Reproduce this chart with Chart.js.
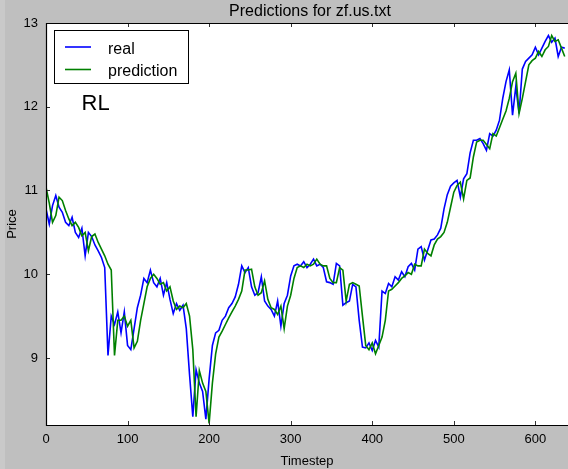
<!DOCTYPE html>
<html>
<head>
<meta charset="utf-8">
<script src="https://cdn.jsdelivr.net/npm/chart.js@4.4.0/dist/chart.umd.min.js"></script>
<style>
  html, body { margin: 0; padding: 0; background: #bfbfbf; }
  canvas { display: block; }
</style>
</head>
<body>
<canvas id="chart" width="568" height="469"></canvas>
<script>
// Sampling interval of the price series (timesteps between stored points)
const STEP = 4;

// Actual closing price, one value every STEP timesteps starting at 0
const realPrice = [
  10.78, 10.6, 10.82, 10.94, 10.8, 10.74, 10.62, 10.58, 10.68, 10.5,
  10.44, 10.55, 10.22, 10.5, 10.45, 10.35, 10.28, 10.2, 10.08, 9.03,
  9.5, 9.4, 9.55, 9.3, 9.55, 9.15, 9.1, 9.35, 9.6, 9.75,
  9.95, 9.9, 10.05, 9.9, 9.85, 9.95, 9.75, 9.9, 9.7, 9.53,
  9.65, 9.57, 9.63, 9.35, 8.8, 8.3, 8.86, 8.7, 8.6, 8.27,
  8.75, 9.15, 9.3, 9.33, 9.45, 9.5, 9.6, 9.65, 9.73, 9.88,
  10.1, 10.02, 10.08, 9.85, 9.75, 9.78, 9.97, 9.68, 9.62, 9.58,
  9.5, 9.68, 9.38, 9.65, 9.75, 9.98, 10.1, 10.12, 10.1, 10.15,
  10.08, 10.12, 10.18, 10.1, 10.12, 10.08, 9.91, 9.9, 9.88, 10.13,
  10.1, 9.63, 9.66, 9.68, 9.88, 9.85, 9.45, 9.13, 9.12, 9.18,
  9.09, 9.21, 9.13, 9.8, 9.77, 9.89, 9.85, 9.97, 9.93, 10.03,
  9.97, 10.09, 10.13, 10.05, 10.3, 10.33, 10.17, 10.29, 10.41, 10.42,
  10.47, 10.55, 10.78, 10.95, 11.05, 11.09, 11.12, 10.92, 11.14, 11.2,
  11.45, 11.6, 11.6, 11.62, 11.56, 11.48, 11.68, 11.65, 11.72, 11.84,
  12.1, 12.3, 12.44, 11.9, 12.24, 11.92, 12.45, 12.54, 12.58, 12.62,
  12.71, 12.62, 12.7, 12.78, 12.85, 12.77, 12.82, 12.6, 12.71, 12.7
];

// Model output for the same timesteps
const predictedPrice = [
  11.04, 10.85, 10.62, 10.7, 10.92, 10.88, 10.76, 10.66, 10.58, 10.62,
  10.56, 10.46, 10.5, 10.28, 10.45, 10.48, 10.38, 10.3, 10.22, 10.12,
  10.05, 9.03, 9.45, 9.45, 9.5, 9.38, 9.45, 9.12, 9.2, 9.45,
  9.65, 9.85, 9.95, 10.0, 9.95, 9.88, 9.9, 9.8, 9.85, 9.68,
  9.58, 9.62, 9.6, 9.65, 9.5, 9.1, 8.3, 8.85, 8.7, 8.6,
  8.22, 8.7, 9.05, 9.25, 9.32, 9.4, 9.48, 9.55, 9.62, 9.7,
  9.8, 10.05, 10.05, 10.06, 9.85, 9.75, 9.78, 9.92, 9.7, 9.6,
  9.58, 9.52, 9.62, 9.35, 9.62, 9.75, 9.95, 10.08, 10.1, 10.08,
  10.12, 10.1, 10.12, 10.18, 10.12, 10.1, 10.1, 9.95, 9.9, 9.9,
  10.08, 10.05, 9.68, 9.88, 9.9, 9.88, 9.86, 9.5, 9.15, 9.1,
  9.18, 9.05, 9.15, 9.25, 9.45, 9.8, 9.82, 9.86, 9.9, 9.95,
  9.98, 10.02, 10.0, 10.12, 10.1, 10.1, 10.3, 10.25, 10.22, 10.35,
  10.42, 10.45, 10.5, 10.62, 10.8, 10.98, 11.06, 11.1, 10.9, 11.12,
  11.15, 11.4, 11.58, 11.6, 11.6, 11.55, 11.5, 11.68, 11.65, 11.75,
  11.85, 11.95, 12.1, 12.3, 12.4, 11.92, 12.1, 12.3, 12.5, 12.55,
  12.58, 12.66, 12.6, 12.68, 12.72, 12.85, 12.78, 12.8, 12.7, 12.6
];

const timesteps = realPrice.map((_, i) => i * STEP);

// Axis ticks and limits
const xTicks = [0, 100, 200, 300, 400, 500, 600];
const yTicks = [9, 10, 11, 12, 13];
const X_MIN = 0, X_MAX = 640;
const Y_MIN = 8.2, Y_MAX = 13;

// Text
const chartTitle = 'Predictions for zf.us.txt';
const xTitle = 'Timestep';
const yTitle = 'Price';
const seriesNames = ['real', 'prediction'];
const seriesColors = ['#0000ff', '#008000'];
const modelTag = 'RL';

const FONT = '"Liberation Sans", Arial, Helvetica, sans-serif';

function toPoints(values) {
  return values.map((v, i) => ({ x: timesteps[i], y: v }));
}

// Figure background, white axes face
const facePlugin = {
  id: 'face',
  beforeDraw(chart) {
    const { ctx, chartArea: a } = chart;
    ctx.save();
    ctx.fillStyle = '#bfbfbf';
    ctx.fillRect(0, 0, chart.width, chart.height);
    ctx.fillStyle = '#c9c9c9';
    ctx.fillRect(0, 0, 5, chart.height);
    ctx.fillStyle = '#ffffff';
    ctx.fillRect(a.left, a.top, a.right - a.left, a.bottom - a.top);
    ctx.restore();
  }
};

// Spines, inward tick marks, title, legend box and tag
const decorPlugin = {
  id: 'decor',
  afterDatasetsDraw(chart) {
    const { ctx, chartArea: a, scales } = chart;
    const xs = scales.x, ys = scales.y;
    ctx.save();

    // inward ticks
    ctx.strokeStyle = '#333';
    ctx.lineWidth = 1;
    ctx.beginPath();
    xTicks.forEach(v => {
      const px = Math.round(xs.getPixelForValue(v)) + 0.5;
      ctx.moveTo(px, a.bottom); ctx.lineTo(px, a.bottom - 4);
      ctx.moveTo(px, a.top); ctx.lineTo(px, a.top + 4);
    });
    yTicks.forEach(v => {
      const py = Math.round(ys.getPixelForValue(v)) + 0.5;
      ctx.moveTo(a.left, py); ctx.lineTo(a.left + 4, py);
    });
    ctx.stroke();

    // spines
    ctx.strokeStyle = '#000';
    ctx.lineWidth = 1.2;
    ctx.beginPath();
    ctx.moveTo(a.right + 2, a.top + 0.5);
    ctx.lineTo(a.left + 0.5, a.top + 0.5);
    ctx.lineTo(a.left + 0.5, a.bottom + 0.5);
    ctx.lineTo(a.right + 2, a.bottom + 0.5);
    ctx.stroke();

    // title
    ctx.fillStyle = '#000';
    ctx.font = '16px ' + FONT;
    ctx.textAlign = 'center';
    ctx.textBaseline = 'middle';
    ctx.fillText(chartTitle, 310, 11.5);

    // legend
    const bx = 54.5, by = 30.5, bw = 134, bh = 53;
    ctx.fillStyle = '#fff';
    ctx.fillRect(bx, by, bw, bh);
    ctx.strokeStyle = '#000';
    ctx.lineWidth = 1;
    ctx.strokeRect(bx, by, bw, bh);
    const rows = [47, 69.5];
    ctx.font = '16px ' + FONT;
    ctx.textAlign = 'left';
    ctx.textBaseline = 'alphabetic';
    chart.data.datasets.slice().sort((p, q) => p.legendIndex - q.legendIndex).forEach((ds, i) => {
      ctx.strokeStyle = ds.borderColor;
      ctx.lineWidth = 1.6;
      ctx.beginPath();
      ctx.moveTo(65, rows[i]);
      ctx.lineTo(91, rows[i]);
      ctx.stroke();
      ctx.fillStyle = '#000';
      ctx.fillText(ds.label, 108, rows[i] + 6.5);
    });

    // model tag
    ctx.font = '22px ' + FONT;
    ctx.fillText(modelTag, 81.5, 110);

    ctx.restore();
  }
};

new Chart(document.getElementById('chart'), {
  type: 'line',
  data: {
    datasets: [
      {
        label: seriesNames[1],
        legendIndex: 1,
        data: toPoints(predictedPrice),
        borderColor: seriesColors[1],
        borderWidth: 1.6,
        pointRadius: 0,
        tension: 0,
        fill: false
      },
      {
        label: seriesNames[0],
        legendIndex: 0,
        data: toPoints(realPrice),
        borderColor: seriesColors[0],
        borderWidth: 1.6,
        pointRadius: 0,
        tension: 0,
        fill: false
      }
    ]
  },
  options: {
    responsive: false,
    animation: false,
    devicePixelRatio: 1,
    layout: { padding: { top: 23, right: 0, left: 0, bottom: 0 } },
    plugins: {
      legend: { display: false },
      title: { display: false },
      tooltip: { enabled: false }
    },
    scales: {
      x: {
        type: 'linear',
        min: X_MIN,
        max: X_MAX,
        afterBuildTicks: s => { s.ticks = xTicks.map(v => ({ value: v })); },
        afterFit: s => { s.height = 44; },
        grid: { display: false, drawTicks: false },
        border: { display: false },
        ticks: {
          color: '#000',
          font: { family: FONT, size: 13 },
          padding: 7,
          maxRotation: 0,
          autoSkip: false
        },
        title: {
          display: true,
          text: xTitle,
          color: '#000',
          font: { family: FONT, size: 13 },
          padding: { top: 0, bottom: 0 }
        }
      },
      y: {
        type: 'linear',
        min: Y_MIN,
        max: Y_MAX,
        afterBuildTicks: s => { s.ticks = yTicks.map(v => ({ value: v })); },
        afterFit: s => { s.width = 46; },
        grid: { display: false, drawTicks: false },
        border: { display: false },
        ticks: {
          color: '#000',
          font: { family: FONT, size: 13 },
          padding: 8
        },
        title: {
          display: true,
          text: yTitle,
          color: '#000',
          font: { family: FONT, size: 13 },
          padding: { top: 5, bottom: 0 }
        }
      }
    }
  },
  plugins: [facePlugin, decorPlugin]
});
</script>
</body>
</html>
